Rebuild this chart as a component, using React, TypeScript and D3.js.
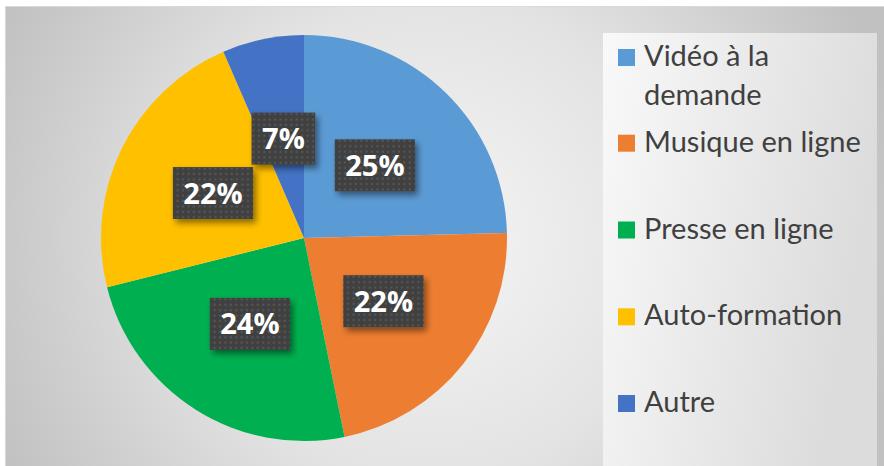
import React, { useEffect, useRef } from "react";
import * as d3 from "d3";

const categories = ["Vidéo à la demande", "Musique en ligne", "Presse en ligne", "Auto-formation", "Autre"];
const values = [24.6, 22.2, 24.3, 22.4, 6.5];
const labels = ["25%", "22%", "24%", "22%", "7%"];
const legendLines = [["Vidéo à la", "demande"], ["Musique en ligne"], ["Presse en ligne"], ["Auto-formation"], ["Autre"]];
const colors = ["#5B9BD5", "#ED7D31", "#00B050", "#FFC000", "#4472C4"];

const W = 884;
const H = 466;

export default function App() {
  const ref = useRef<SVGSVGElement>(null);

  useEffect(() => {
    const svg = d3.select(ref.current);
    svg.selectAll("*").remove();

    const defs = svg.append("defs");
    const bg = defs.append("radialGradient").attr("id", "bg").attr("gradientUnits", "userSpaceOnUse")
      .attr("cx", 430).attr("cy", 240).attr("r", 480);
    bg.append("stop").attr("offset", "0").attr("stop-color", "#f5f5f5");
    bg.append("stop").attr("offset", "0.5").attr("stop-color", "#e3e3e3");
    bg.append("stop").attr("offset", "1").attr("stop-color", "#c1c1c1");

    const lg = defs.append("linearGradient").attr("id", "lg").attr("x1", "0").attr("x2", "1").attr("y1", "0").attr("y2", "0.3");
    lg.append("stop").attr("offset", "0").attr("stop-color", "#f9f9f9");
    lg.append("stop").attr("offset", "1").attr("stop-color", "#dcdcdc");

    const pat = defs.append("pattern").attr("id", "dots").attr("patternUnits", "userSpaceOnUse")
      .attr("width", 5.4).attr("height", 5.4);
    pat.append("rect").attr("width", 5.4).attr("height", 5.4).attr("fill", "#404040");
    pat.append("rect").attr("x", 1.5).attr("y", 1.5).attr("width", 2).attr("height", 2).attr("fill", "#585858");

    const sh = defs.append("filter").attr("id", "sh").attr("x", "-30%").attr("y", "-30%").attr("width", "170%").attr("height", "170%");
    sh.append("feDropShadow").attr("dx", 3).attr("dy", 4).attr("stdDeviation", 3)
      .attr("flood-color", "#000").attr("flood-opacity", 0.45);

    svg.append("rect").attr("width", W).attr("height", H).attr("fill", "#ffffff");
    svg.append("rect").attr("x", 5.5).attr("y", 6.5).attr("width", W).attr("height", H)
      .attr("fill", "url(#bg)").attr("stroke", "#d9d9d9").attr("stroke-width", 1);

    // legend box
    svg.append("rect").attr("x", 603).attr("y", 33).attr("width", 274).attr("height", H - 33)
      .attr("fill", "url(#lg)");

    const cx = 304, cy = 238, r = 203;
    const pie = d3.pie<number>().sort(null).value((d) => d);
    const arcs = pie(values);
    const arc = d3.arc<d3.PieArcDatum<number>>().innerRadius(0).outerRadius(r);
    const g = svg.append("g").attr("transform", `translate(${cx},${cy})`);
    g.selectAll("path.slice").data(arcs).enter().append("path")
      .attr("class", "slice")
      .attr("d", (d) => arc(d) as string)
      .attr("fill", (_d, i) => colors[i]);

    arcs.forEach((d, i) => {
      const [lx, ly] = arc.centroid(d);
      const lgp = g.append("g").attr("transform", `translate(${lx},${ly})`);
      const rect = lgp.append("rect").attr("fill", "url(#dots)").attr("filter", "url(#sh)");
      const t = lgp.append("text")
        .attr("text-anchor", "middle")
        .attr("dy", "0.36em")
        .attr("font-family", "'Open Sans', Lato, sans-serif")
        .attr("font-weight", 700)
        .attr("font-size", 29)
        .attr("fill", "#ffffff")
        .text(labels[i]);
      const tw = (t.node() as SVGTextElement).getComputedTextLength();
      const bw = tw + 21;
      const bh = 52;
      rect.attr("x", -bw / 2).attr("y", -bh / 2).attr("width", bw).attr("height", bh);
    });

    // legend
    const legendX = 618;
    const textX = 644;
    const baselines = [66, 151.7, 238.5, 325.3, 412];
    const lineH = 39;
    const leg = svg.append("g");
    categories.forEach((c, i) => {
      const b = baselines[i];
      leg.append("rect").attr("x", legendX).attr("y", b - 17).attr("width", 17).attr("height", 17).attr("fill", colors[i]);
      const t = leg.append("text")
        .attr("x", textX).attr("y", b)
        .attr("font-family", "Lato, 'Open Sans', sans-serif")
        .attr("font-size", 29)
        .attr("fill", "#404040");
      legendLines[i].forEach((line, j) => {
        t.append("tspan").attr("x", textX).attr("y", b + j * lineH).text(line);
      });
      t.append("title").text(c);
    });
  }, []);

  return (
    <div style={{ position: "fixed", left: 0, top: 0, width: W, height: H }}>
      <svg ref={ref} width={W} height={H} style={{ display: "block" }} />
    </div>
  );
}
